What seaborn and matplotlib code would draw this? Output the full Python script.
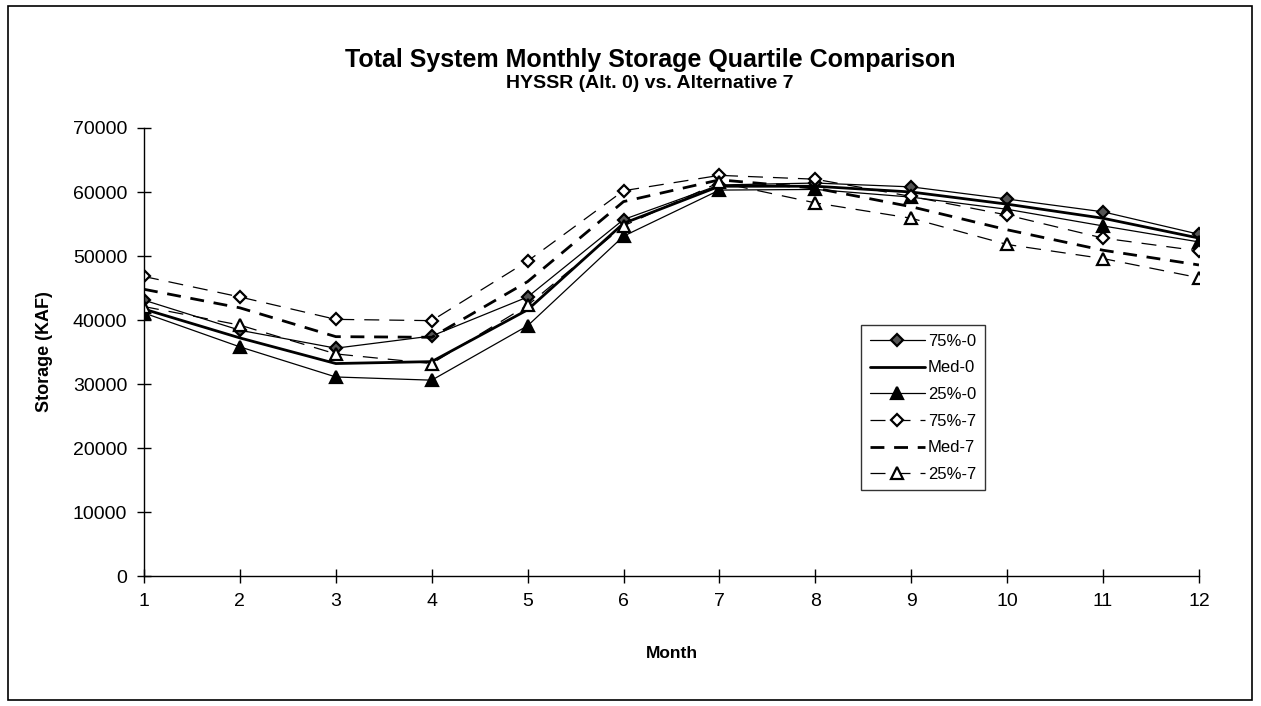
import numpy as np
import pandas as pd
import matplotlib
matplotlib.use("Agg")
import matplotlib.pyplot as plt
import seaborn as sns
from matplotlib.patches import Rectangle

# Data (KAF)
months = [1, 2, 3, 4, 5, 6, 7, 8, 9, 10, 11, 12]
q75_alt0 = [43100, 38400, 35600, 37500, 43600, 55700, 61100, 61400, 60800, 58900, 56900, 53400]
med_alt0 = [41700, 37200, 33200, 33500, 41600, 55100, 60900, 60900, 60000, 58100, 55900, 52800]
q25_alt0 = [41100, 35800, 31100, 30600, 39100, 53100, 60300, 60400, 59200, 57300, 54700, 52200]
q75_alt7 = [46800, 43600, 40100, 39900, 49200, 60200, 62600, 62000, 59300, 56400, 52800, 50800]
med_alt7 = [44800, 41900, 37400, 37300, 46000, 58500, 61900, 60600, 57700, 54100, 50900, 48600]
q25_alt7 = [42100, 39200, 34700, 33200, 42300, 54700, 61500, 58300, 55900, 51800, 49600, 46600]

series_names = ["75%-0", "Med-0", "25%-0", "75%-7", "Med-7", "25%-7"]
series_values = [q75_alt0, med_alt0, q25_alt0, q75_alt7, med_alt7, q25_alt7]

# Line styles per series
styles = {
    "75%-0": dict(lw=0.9, ls="-", marker="D", mfc="#555555", mec="black", ms=6.5),
    "Med-0": dict(lw=2.0, ls="-", marker=None, mfc="none", mec="black", ms=0),
    "25%-0": dict(lw=0.9, ls="-", marker="^", mfc="black", mec="black", ms=8),
    "75%-7": dict(lw=0.9, ls=(0, (12, 8)), marker="D", mfc="white", mec="black", ms=6.5),
    "Med-7": dict(lw=2.0, ls=(0, (5, 3.5)), marker=None, mfc="none", mec="black", ms=0),
    "25%-7": dict(lw=0.9, ls=(0, (12, 8)), marker="^", mfc="white", mec="black", ms=8),
}

sns.set_theme(style="white")
plt.rcParams["font.family"] = ["Liberation Sans", "DejaVu Sans"]
plt.rcParams["text.color"] = "black"
plt.rcParams["axes.labelcolor"] = "black"

fig = plt.figure(figsize=(12.61, 7.06), dpi=100)
ax = fig.add_axes([0.1142, 0.1841, 0.8366, 0.6346])

for name, vals in zip(series_names, series_values):
    df = pd.DataFrame({"Month": months, "Storage": vals})
    st = styles[name]
    sns.lineplot(data=df, x="Month", y="Storage", ax=ax, color="black",
                 linewidth=st["lw"], linestyle=st["ls"], marker=st["marker"],
                 markerfacecolor=st["mfc"], markeredgecolor=st["mec"],
                 markeredgewidth=1.6, markersize=st["ms"], label=name)

ax.set_xlim(1, 12)
ax.set_ylim(0, 70000)
ax.set_xticks(months)
ax.set_yticks(np.arange(0, 70001, 10000))
ax.tick_params(axis="both", bottom=True, left=True, direction="inout", length=10,
               width=1, color="black", labelcolor="black", labelsize=14, pad=7)
for side in ["top", "right"]:
    ax.spines[side].set_visible(False)
for side in ["left", "bottom"]:
    ax.spines[side].set_color("black")
    ax.spines[side].set_linewidth(1)

ax.set_xlabel("Month", fontsize=12.5, fontweight="bold", labelpad=26)
ax.set_ylabel("Storage (KAF)", fontsize=13, fontweight="bold", labelpad=14)

leg = ax.legend(loc="upper left", bbox_to_anchor=(0.672, 0.578), frameon=True,
                fancybox=False, edgecolor="black", fontsize=12, handlelength=3.3,
                handletextpad=0.2, labelspacing=0.7, borderpad=0.5)
leg.get_frame().set_linewidth(1.0)
for txt in leg.get_texts():
    txt.set_color("black")

fig.text(650 / 1261, 1 - 60 / 706, "Total System Monthly Storage Quartile Comparison",
         ha="center", va="center", fontsize=18, fontweight="bold")
fig.text(650 / 1261, 1 - 84 / 706, "HYSSR (Alt. 0) vs. Alternative 7",
         ha="center", va="center", fontsize=14, fontweight="bold")

# Outer frame around the chart
fig.patches.append(Rectangle((8 / 1261, 6 / 706), 1244 / 1261, 694 / 706,
                             transform=fig.transFigure, fill=False,
                             edgecolor="black", linewidth=1.2))

fig.savefig("out.png", dpi=100)
